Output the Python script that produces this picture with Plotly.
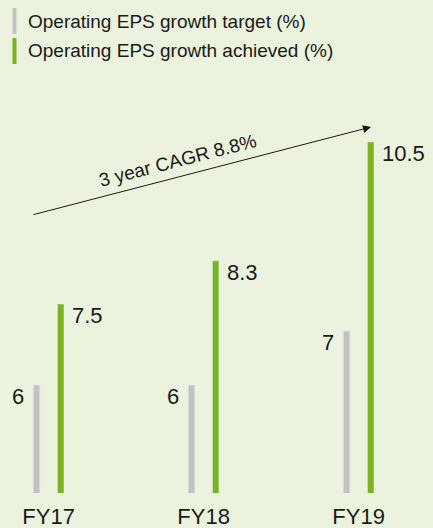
import plotly.graph_objects as go

# data
years = ["FY17", "FY18", "FY19"]
target = [6, 6, 7]
achieved = [7.5, 8.3, 10.5]
target_name = "Operating EPS growth target (%)"
achieved_name = "Operating EPS growth achieved (%)"
cagr_text = "3 year CAGR 8.8%"

W, H = 433, 528
BG = "#ebf2dd"
GREY = "#c0c2c4"
GREEN = "#7ab320"
FONT = "Liberation Sans, Arial, sans-serif"
TXT = "#1a1a1a"

# plot area: bottom at 493px, top at 88px
M_T, M_B = 88, 35
PH = H - M_T - M_B


def py(p):
    # pixel row -> paper y
    return (H - M_B - p) / PH


def px(p):
    return p / W


bw = 0.042
fig = go.Figure()
fig.add_trace(go.Bar(x=years, y=target, name=target_name, marker_color=GREY,
                     width=bw, offset=-0.099, showlegend=False, hoverinfo="y"))
fig.add_trace(go.Bar(x=years, y=achieved, name=achieved_name, marker_color=GREEN,
                     width=bw, offset=0.057, showlegend=False, hoverinfo="y"))

anns = []
for i, v in enumerate(target):
    anns.append(dict(x=i, y=v, xref="x", yref="y", text=str(v), showarrow=False,
                     xanchor="right", yanchor="top", xshift=-0.099 * 155 - 7, yshift=3,
                     font=dict(size=22, color=TXT, family=FONT)))
for i, v in enumerate(achieved):
    anns.append(dict(x=i, y=v, xref="x", yref="y", text=str(v), showarrow=False,
                     xanchor="left", yanchor="top", xshift=(0.057 + bw) * 155 + 6, yshift=3,
                     font=dict(size=22, color=TXT, family=FONT)))

# CAGR arrow
anns.append(dict(x=(371 - 48.6) / 155, y=4 + (493 - 127) / 54, xref="x", yref="y",
                 ax=32 - 371, ay=215 - 127, axref="pixel", ayref="pixel",
                 showarrow=True, arrowhead=2, arrowsize=1.6, arrowwidth=1,
                 arrowcolor=TXT, text=""))
anns.append(dict(x=px(177.5), y=py(128), xref="paper", yref="paper", text=cagr_text,
                 showarrow=False, textangle=-14.5,
                 font=dict(size=19, color=TXT, family=FONT)))

# legend
shapes = []
for row, (name, col) in enumerate([(target_name, GREY), (achieved_name, GREEN)]):
    top = 8 + row * 30
    shapes.append(dict(type="rect", xref="paper", yref="paper",
                       x0=px(12.5), x1=px(16.5), y0=py(top + 26), y1=py(top),
                       fillcolor=col, line_width=0))
    anns.append(dict(x=px(26), y=py(top + 13), xref="paper", yref="paper", text=name,
                     showarrow=False, xanchor="left", yanchor="middle",
                     font=dict(size=19, color=TXT, family=FONT)))

fig.update_layout(
    width=W, height=H,
    margin=dict(l=0, r=0, t=M_T, b=M_B),
    paper_bgcolor=BG, plot_bgcolor=BG,
    barmode="overlay",
    annotations=anns, shapes=shapes,
    xaxis=dict(range=[-48.6 / 155, (W - 48.6) / 155], showgrid=False, zeroline=False,
               showline=False, ticks="", ticklabelstandoff=8,
               tickfont=dict(size=22, color=TXT, family=FONT)),
    yaxis=dict(range=[4, 4 + PH / 54], visible=False, showgrid=False),
)

fig.write_html("out.html", config={"displayModeBar": False},
               post_script="document.body.style.margin='0';")
